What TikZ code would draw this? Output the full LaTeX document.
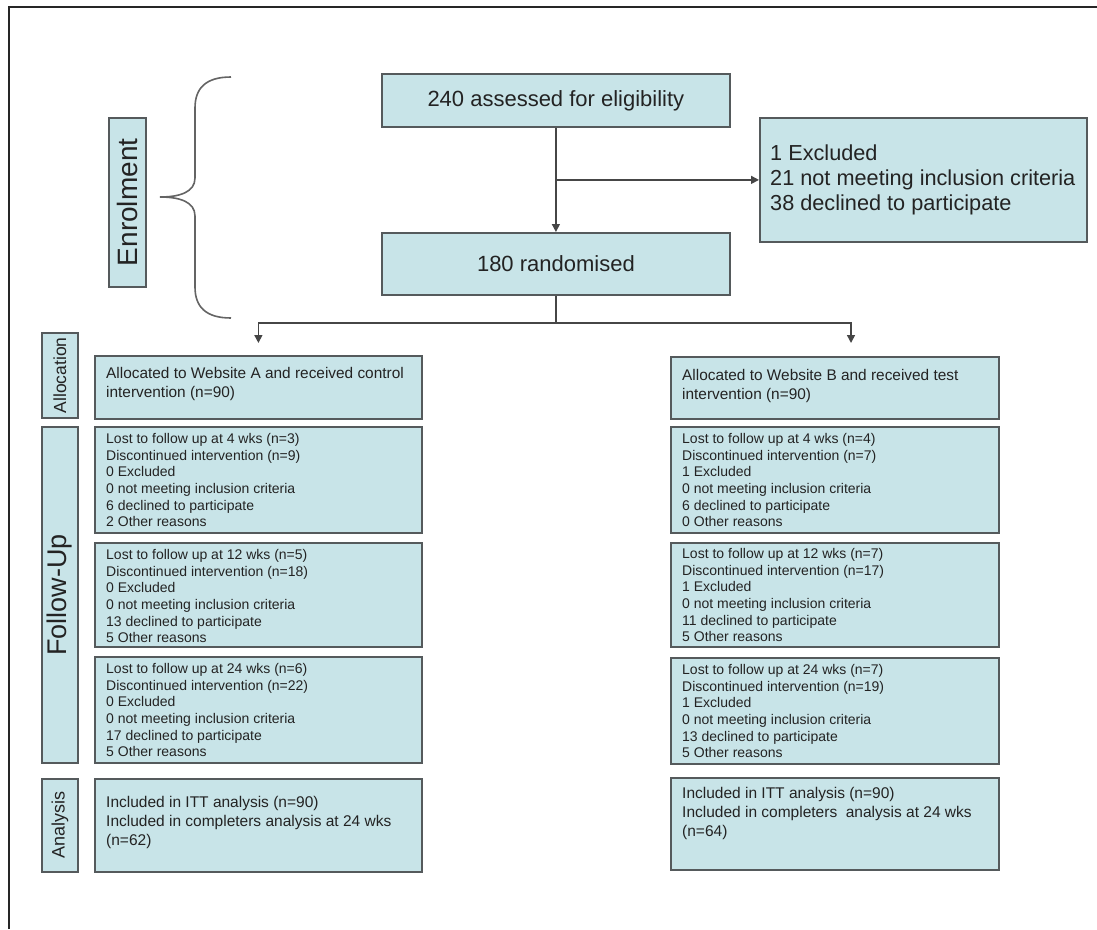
\documentclass[tikz,border=0pt]{standalone}
\usepackage{fontspec}
\setmainfont{Liberation Sans}
\usetikzlibrary{arrows.meta}
\definecolor{boxfill}{RGB}{200,228,232}
\definecolor{boxline}{RGB}{85,90,92}
\definecolor{linec}{RGB}{70,70,70}
\definecolor{textc}{RGB}{35,35,35}
\definecolor{bracec}{RGB}{100,100,100}
\begin{document}
\begin{tikzpicture}[x=1pt,y=1pt,
  box/.style={draw=boxline, fill=boxfill, line width=1.8pt, inner sep=0pt, anchor=north west, text=textc},
  txt/.style={anchor=north west, align=left, inner sep=0pt, text=textc},
  fusmall/.style={txt, font=\fontsize{14}{16.7}\selectfont},
  midsmall/.style={txt, font=\fontsize{15.4}{19.5}\selectfont},
  conn/.style={draw=linec, line width=1.5pt},
  arr/.style={conn, -{Triangle[length=8pt,width=8pt]}},
  frameline/.style={draw=black!85, line width=1.3pt}
]
\useasboundingbox (0,0) rectangle (1097,-929);
% frame
\draw[frameline] (9,-929) -- (9,-7) -- (1097,-7);

% enrolment label and brace
\node[box, minimum width=37pt, minimum height=169pt] (enrl) at (108,-117) {};
\node[rotate=90, inner sep=0pt, text=textc, font=\fontsize{28}{32}\selectfont] (enrltxt) at (enrl.center) {Enrolment};
\draw[draw=bracec, line width=1.6pt] (231,-77) .. controls (206,-77) and (195,-88) .. (195,-108)
  -- (195,-178) .. controls (195,-192) and (180,-197) .. (160,-197)
  .. controls (180,-197) and (195,-202) .. (195,-216)
  -- (195,-287) .. controls (195,-307) and (206,-318) .. (231,-318);

% top boxes
\node[box, minimum width=348pt, minimum height=53pt, font=\fontsize{22}{26}\selectfont] (b240) at (381,-73) {240 assessed for eligibility};
\node[box, minimum width=327pt, minimum height=124pt] (excl) at (759,-117) {};
\node[txt, anchor=west, font=\fontsize{21.7}{25}\selectfont] (excltxt) at ([xshift=11pt]excl.west) {1 Excluded\\21 not meeting inclusion criteria\\38 declined to participate};
\node[box, minimum width=348pt, minimum height=62pt, font=\fontsize{22}{26}\selectfont] (b180) at (381,-232) {180 randomised};

% side labels
\node[box, minimum width=36pt, minimum height=85pt] (labAl) at (41,-332) {};
\node[rotate=90, inner sep=0pt, text=textc, font=\fontsize{17.5}{20}\selectfont] (labAltxt) at (labAl.center) {Allocation};
\node[box, minimum width=36pt, minimum height=336pt] (labFU) at (41,-426) {};
\node[rotate=90, inner sep=0pt, text=textc, font=\fontsize{27}{30}\selectfont] (labFUtxt) at (labFU.center) {Follow-Up};
\node[box, minimum width=36pt, minimum height=93pt] (labAn) at (41,-778) {};
\node[rotate=90, inner sep=0pt, text=textc, font=\fontsize{18}{20}\selectfont] (labAntxt) at (labAn.center) {Analysis};

% left column
\node[box, minimum width=327pt, minimum height=63pt] (allocA) at (94,-355) {};
\node[midsmall] (allocAtxt) at (106,-367) {Allocated to Website A and received control\\intervention (n=90)};
\node[box, minimum width=327pt, minimum height=106pt] (fuA1) at (94,-426) {};
\node[fusmall] (fuA1txt) at (106,-433) {Lost to follow up at 4 wks (n=3)\\Discontinued intervention (n=9)\\0 Excluded\\0 not meeting inclusion criteria\\6 declined to participate\\2 Other reasons};
\node[box, minimum width=327pt, minimum height=104pt] (fuA2) at (94,-542) {};
\node[fusmall] (fuA2txt) at (106,-549) {Lost to follow up at 12 wks (n=5)\\Discontinued intervention (n=18)\\0 Excluded\\0 not meeting inclusion criteria\\13 declined to participate\\5 Other reasons};
\node[box, minimum width=327pt, minimum height=106pt] (fuA3) at (94,-656) {};
\node[fusmall] (fuA3txt) at (106,-663) {Lost to follow up at 24 wks (n=6)\\Discontinued intervention (n=22)\\0 Excluded\\0 not meeting inclusion criteria\\17 declined to participate\\5 Other reasons};
\node[box, minimum width=327pt, minimum height=93pt] (anA) at (94,-778) {};
\node[midsmall, font=\fontsize{15.5}{19}\selectfont] (anAtxt) at (106,-796) {Included in ITT analysis (n=90)\\Included in completers analysis at 24 wks\\(n=62)};

% right column
\node[box, minimum width=328pt, minimum height=62pt] (allocB) at (670,-356) {};
\node[midsmall] (allocBtxt) at (682,-369) {Allocated to Website B and received test\\intervention (n=90)};
\node[box, minimum width=328pt, minimum height=106pt] (fuB1) at (670,-426) {};
\node[fusmall] (fuB1txt) at (682,-433) {Lost to follow up at 4 wks (n=4)\\Discontinued intervention (n=7)\\1 Excluded\\0 not meeting inclusion criteria\\6 declined to participate\\0 Other reasons};
\node[box, minimum width=328pt, minimum height=104pt] (fuB2) at (670,-542) {};
\node[fusmall] (fuB2txt) at (682,-548) {Lost to follow up at 12 wks (n=7)\\Discontinued intervention (n=17)\\1 Excluded\\0 not meeting inclusion criteria\\11 declined to participate\\5 Other reasons};
\node[box, minimum width=328pt, minimum height=106pt] (fuB3) at (670,-657) {};
\node[fusmall] (fuB3txt) at (682,-664) {Lost to follow up at 24 wks (n=7)\\Discontinued intervention (n=19)\\1 Excluded\\0 not meeting inclusion criteria\\13 declined to participate\\5 Other reasons};
\node[box, minimum width=328pt, minimum height=92pt] (anB) at (670,-777) {};
\node[midsmall, font=\fontsize{15.5}{19}\selectfont] (anBtxt) at (682,-787) {Included in ITT analysis (n=90)\\Included in completers\ \ analysis at 24 wks\\(n=64)};

% connectors
\draw[arr] (b240.south) -- (b180.north);
\draw[arr] (b240.south |- excl.west) -- (excl.west);
\path (b180.south) ++(0,-27) coordinate (split);
\coordinate (tipA) at ([yshift=12pt]allocA.north);
\coordinate (tipB) at (851,-343);
\draw[conn] (b180.south) -- (split);
\draw[arr] (split) -| (tipA);
\draw[arr] (split) -| (tipB);
\end{tikzpicture}
\end{document}
